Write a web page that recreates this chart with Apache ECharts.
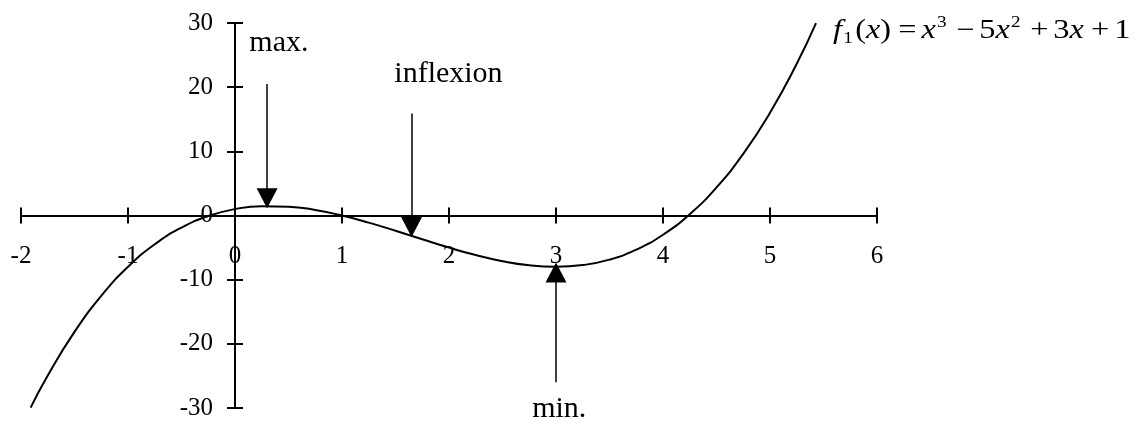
<!DOCTYPE html>
<html>
<head>
<meta charset="utf-8">
<style>
  html, body { margin: 0; padding: 0; background: #fff; }
  #chart { width: 1138px; height: 423px; }
</style>
<script src="https://cdn.jsdelivr.net/npm/echarts@6/dist/echarts.min.js"></script>
</head>
<body>
<div id="chart"></div>
<script>
// Sampled points of f1(x) = x^3 - 5x^2 + 3x + 1
const xValues = [-1.91, -1.75, -1.5, -1.25, -1, -0.75, -0.5, -0.25, 0, 0.25, 0.5, 0.75, 1,
  1.25, 1.5, 1.75, 2, 2.25, 2.5, 2.75, 3, 3.25, 3.5, 3.75, 4, 4.25, 4.5, 4.75, 5, 5.25, 5.43];
const yValues = [-29.94, -24.92, -18.13, -12.52, -8, -4.48, -1.88, -0.08, 1, 1.45, 1.38, 0.86, 0,
  -1.11, -2.38, -3.70, -5, -6.17, -7.13, -7.77, -8, -7.73, -6.88, -5.33, -3, 0.20, 4.38, 9.61, 16, 23.64, 29.97];

const xTicks = [-2, -1, 0, 1, 2, 3, 4, 5, 6];
const yTicks = [-30, -20, -10, 0, 10, 20, 30];

// Annotation arrows: [x, tail y, head y]
const arrowMax = [0.3, 20.5, 2.7];
const arrowInflexion = [1.65, 15.9, -1.8];
const arrowMin = [3.0, -26, -8.9];

// Annotation captions: [text, x, y]
const captions = [
  ['max.', 0.41, 26.9],
  ['inflexion', 1.995, 22.0],
  ['min.', 3.03, -30.1]
];

const FONT = '"Liberation Serif", "Times New Roman", serif';
const points = xValues.map((x, i) => [x, yValues[i]]);

// Grid geometry (pixels)
const G = { left: 21, right: 261, top: 23, bottom: 15 };
const W = 1138 - G.left - G.right;
const H = 423 - G.top - G.bottom;
const xMin = xTicks[0], xMax = xTicks[xTicks.length - 1];
const yMin = yTicks[0], yMax = yTicks[yTicks.length - 1];
const pxPerY = H / (yMax - yMin);
// The axes cross at the origin: shift them from the grid edges to zero
const xAxisOffset = -pxPerY * (0 - yMin);
const yAxisOffset = -W * (0 - xMin) / (xMax - xMin);

function arrow(a) {
  return [{ coord: [a[0], a[1]], symbol: 'none' }, { coord: [a[0], a[2]], symbol: 'triangle', symbolSize: [21, 20] }];
}

// Captions sitting past the axis range are anchored on its edge and nudged by pixels
function caption(c) {
  const y = Math.min(yMax, Math.max(yMin, c[2]));
  return { name: c[0], coord: [c[1], y], label: { offset: [0, (y - c[2]) * pxPerY] } };
}

const lineStyle = { color: '#000', width: 2 };
const axisBase = {
  type: 'value',
  splitLine: { show: false },
  axisLine: { show: true, onZero: false, lineStyle: lineStyle },
  axisTick: { show: true, length: 8, lineStyle: lineStyle }
};

// Formula typography
const mathBase = { fontFamily: FONT, fontSize: 27, fill: '#000', lineHeight: 32, verticalAlign: 'middle' };
const small = { fontFamily: FONT, fontSize: 16, fill: '#000' };

const chart = echarts.init(document.getElementById('chart'));
chart.setOption({
  animation: false,
  backgroundColor: '#fff',
  grid: Object.assign({ containLabel: false, outerBoundsMode: 'none' }, G),
  xAxis: [
    Object.assign({}, axisBase, {
      min: xMin, max: xMax, interval: 1, position: 'bottom', offset: xAxisOffset,
      axisLabel: { color: '#000', fontFamily: FONT, fontSize: 25, margin: 28 }
    }),
    Object.assign({}, axisBase, {
      min: xMin, max: xMax, interval: 1, position: 'bottom', offset: xAxisOffset,
      axisTick: { show: true, inside: true, length: 8, lineStyle: lineStyle },
      axisLabel: { show: false }
    })
  ],
  yAxis: [
    Object.assign({}, axisBase, {
      min: yMin, max: yMax, interval: 10, position: 'left', offset: yAxisOffset,
      axisLabel: { color: '#000', fontFamily: FONT, fontSize: 25, margin: 22 }
    }),
    Object.assign({}, axisBase, {
      min: yMin, max: yMax, interval: 10, position: 'left', offset: yAxisOffset,
      axisTick: { show: true, inside: true, length: 8, lineStyle: lineStyle },
      axisLabel: { show: false }
    })
  ],
  series: [{
    type: 'line',
    data: points,
    smooth: true,
    symbol: 'none',
    clip: false,
    lineStyle: { color: '#000', width: 2 },
    markLine: {
      silent: true,
      animation: false,
      lineStyle: { color: '#000', width: 1.5, type: 'solid' },
      itemStyle: { color: '#000' },
      label: { show: false },
      data: [arrow(arrowMax), arrow(arrowInflexion), arrow(arrowMin)]
    },
    markPoint: {
      silent: true,
      symbol: 'rect',
      symbolSize: 1,
      itemStyle: { color: 'rgba(0,0,0,0)' },
      label: {
        show: true, position: 'inside', color: '#000',
        fontFamily: FONT, fontSize: 30,
        formatter: p => p.name
      },
      data: captions.map(caption)
    }
  }],
  graphic: [{
    type: 'text',
    x: 833,
    y: 15,
    scaleX: 1.2,
    originX: 0,
    originY: 0,
    style: {
      verticalAlign: 'top',
      text: '{i|f}{sub|1}{n|(}{i|x}{n|)}{op|=}{i|x}{sup|3}{op|−}{n|5}{i|x}{sup|2}{op|+}{n|3}{i|x}{op|+}{n|1}',
      rich: {
        n: mathBase,
        i: Object.assign({}, mathBase, { fontStyle: 'italic' }),
        op: Object.assign({}, mathBase, { padding: [0, 4, 0, 6] }),
        sup: Object.assign({}, small, { lineHeight: 18, verticalAlign: 'top', padding: [0, 2, 0, 1] }),
        sub: Object.assign({}, small, { lineHeight: 16, verticalAlign: 'bottom', padding: [0, 2, 0, 1] })
      }
    }
  }]
});
</script>
</body>
</html>
